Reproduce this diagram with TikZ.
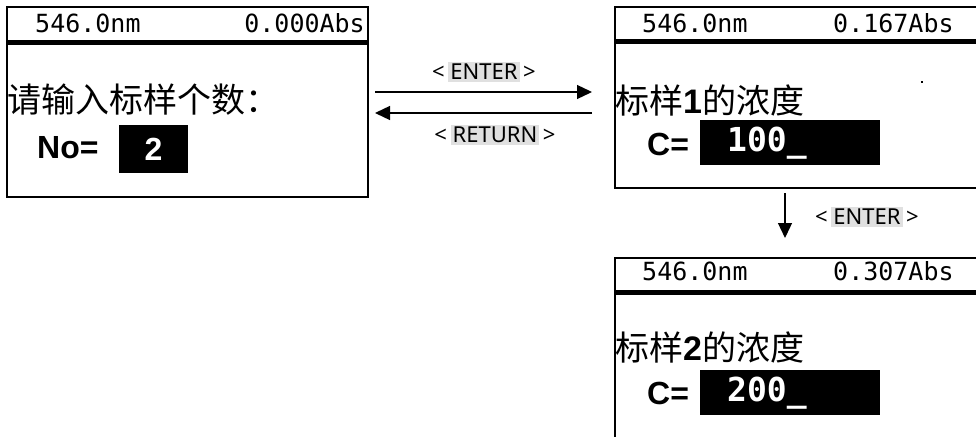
\documentclass[tikz,border=0pt]{standalone}
\usepackage{fontspec}
\setmainfont{Noto Sans}
\newfontfamily\cjkfont{Noto Sans CJK SC}
\newfontfamily\lcdfont{DejaVu Sans Mono}
\newfontfamily\fieldfont{Liberation Sans}
\usetikzlibrary{arrows.meta}
\definecolor{keygray}{gray}{0.88}
\setlength{\fboxsep}{2pt}
\newcommand{\keyname}[1]{<\,\colorbox{keygray}{#1}\,>}
\newcommand{\stdno}[1]{{\fieldfont\bfseries #1}}

\tikzset{
  screen/.style={draw, line width=1.2pt},
  hdrline/.style={line width=5pt},
  hdrtext/.style={font=\lcdfont\fontsize{25}{25}\selectfont, inner sep=0pt},
  msg/.style={font=\cjkfont\fontsize{34}{34}\selectfont, anchor=west, inner sep=0pt},
  field/.style={font=\fieldfont\bfseries\fontsize{32}{32}\selectfont, anchor=west, inner sep=0pt},
  valbox/.style={fill=black, text=white, inner sep=0pt, font=\fieldfont\bfseries\fontsize{32}{32}\selectfont},
  valtext/.style={text=white, anchor=west, inner sep=0pt, font=\lcdfont\bfseries\fontsize{33}{33}\selectfont},
  keyarrow/.style={line width=1.3pt, -{Triangle[length=15pt,width=14pt]}},
  keylabel/.style={font=\fontsize{22}{22}\selectfont, inner sep=0pt},
}

\begin{document}
\begin{tikzpicture}[x=1pt,y=-1pt]
\useasboundingbox (0,0) rectangle (976,436);
\clip (0,0) rectangle (976,436);

% screen 1
\draw[screen] (7,7) rectangle (368,197);
\draw[hdrline] (7,43) -- (368,43);
\node[hdrtext, anchor=west] (s1nm) at (35,23) {546.0nm};
\node[hdrtext, anchor=east] (s1abs) at (365,23) {0.000Abs};
\node[msg] (s1msg) at (7,100) {请输入标样个数：};
\node[field] (s1no) at (37,148) {No=};
\node[valbox, minimum width=69pt, minimum height=48pt] (s1val) at (153.5,149) {2};

% screen 2
\draw[screen] (615,7) rectangle (990,188);
\draw[hdrline] (615,42) -- (990,42);
\node[hdrtext, anchor=west] (s2nm) at (642,23) {546.0nm};
\node[hdrtext, anchor=west] (s2abs) at (833,23) {0.167Abs};
\node[msg] (s2msg) at (615,100) {标样\stdno{1}的浓度};
\node[field] (s2c) at (647,144) {C=};
\node[valbox, minimum width=180pt, minimum height=45pt] (s2box) at (790,142.5) {};
\node[valtext] (s2val) at (727,143) {100\_};
\fill (921,81) rectangle (923,83);

% screen 3
\draw[screen] (615,258) rectangle (990,450);
\draw[hdrline] (615,292) -- (990,292);
\node[hdrtext, anchor=west] (s3nm) at (642,271) {546.0nm};
\node[hdrtext, anchor=west] (s3abs) at (833,271) {0.307Abs};
\node[msg] (s3msg) at (615,347) {标样\stdno{2}的浓度};
\node[field] (s3c) at (647,393) {C=};
\node[valbox, minimum width=180pt, minimum height=45pt] (s3box) at (790,392.5) {};
\node[valtext] (s3val) at (727,393) {200\_};

% keys
\coordinate (s1out) at (375,92);
\coordinate (s2in) at (592,92);
\coordinate (s2out) at (592,113);
\coordinate (s1in) at (375,113);
\coordinate (s2down) at (785,193);
\coordinate (s3in) at (785,238);
\draw[keyarrow] (s1out) -- (s2in);
\draw[keyarrow] (s2out) -- (s1in);
\draw[keyarrow] (s2down) -- (s3in);
\node[keylabel] (enter1) at (484,72) {\keyname{ENTER}};
\node[keylabel] (return1) at (495,135) {\keyname{RETURN}};
\node[keylabel] (enter2) at (867,217) {\keyname{ENTER}};

\end{tikzpicture}
\end{document}
